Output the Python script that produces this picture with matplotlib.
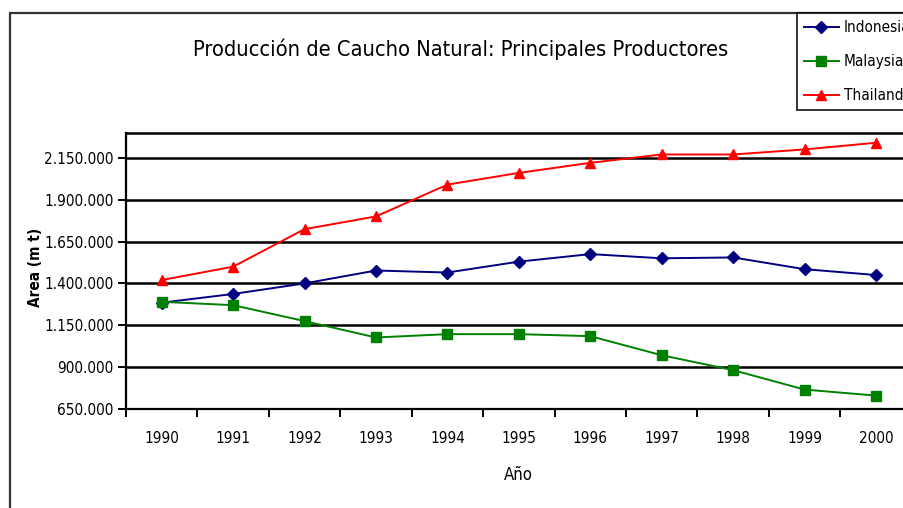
import matplotlib
matplotlib.use("Agg")
import matplotlib.pyplot as plt
from matplotlib.patches import Rectangle
from matplotlib.ticker import FixedLocator, FuncFormatter

plt.rcParams["font.family"] = ["DejaVu Sans"]
plt.rcParams["font.stretch"] = "condensed"

anni = ["1990", "1991", "1992", "1993", "1994", "1995",
        "1996", "1997", "1998", "1999", "2000"]
indonesia = [1285000, 1337000, 1400000, 1477000, 1465000, 1530000,
             1575000, 1550000, 1555000, 1485000, 1450000]
malaysia = [1290000, 1270000, 1175000, 1077000, 1097000, 1097000,
            1085000, 971000, 882000, 766000, 730000]
thailand = [1420000, 1500000, 1724000, 1800000, 1990000, 2060000,
            2120000, 2170000, 2170000, 2200000, 2240000]
yticks = [650000, 900000, 1150000, 1400000, 1650000, 1900000, 2150000]

W, H = 904, 508
fig = plt.figure(figsize=(W / 100, H / 100), dpi=100)

# bordo esterno del grafico (tagliato a destra e in basso)
fig.patches.append(Rectangle((10 / W, -0.1), 1.2, 1 - 13 / H + 0.1,
                             transform=fig.transFigure, fill=False,
                             edgecolor="#333333", linewidth=1.6))

x0, x1 = 126 / W, 911.7 / W
y0, y1 = (H - 409) / H, (H - 132.7) / H
ax = fig.add_axes([x0, y0, x1 - x0, y1 - y0])

xs = range(len(anni))
ax.plot(xs, indonesia, color="#000080", marker="D", markersize=6, lw=1.4,
        label="Indonesia")
ax.plot(xs, malaysia, color="#008000", marker="s", markersize=7, lw=1.4,
        label="Malaysia")
ax.plot(xs, thailand, color="#ff0000", marker="^", markersize=7, lw=1.4,
        label="Thailand")

ax.set_xlim(-0.5, len(anni) - 0.5)
ax.set_ylim(650000, 2300000)
ax.set_yticks(yticks)
ax.yaxis.set_major_formatter(FuncFormatter(lambda v, p: f"{int(v):,}".replace(",", ".")))
ax.yaxis.grid(True, color="black", linewidth=1.8)
ax.set_axisbelow(True)

ax.set_xticks(list(xs))
ax.set_xticklabels(anni)
ax.xaxis.set_minor_locator(FixedLocator([i - 0.5 for i in range(len(anni) + 1)]))
ax.tick_params(axis="x", which="major", length=0, pad=16, labelsize=11)
ax.tick_params(axis="x", which="minor", length=6, width=1.4, direction="out")
ax.tick_params(axis="y", length=6, width=1.4, direction="out", labelsize=11, pad=3)

for lato in ["top", "right"]:
    ax.spines[lato].set_visible(lato == "top")
ax.spines["top"].set_linewidth(1.8)
ax.spines["left"].set_linewidth(1.6)
ax.spines["bottom"].set_linewidth(1.6)

ax.set_xlabel("Año", fontsize=12, labelpad=14)
fig.text(36 / W, 1 - 267 / H, "Area (m t)", rotation=90, fontsize=11,
         fontweight="bold", ha="center", va="center")

fig.text(461 / W, 1 - 49 / H, "Producción de Caucho Natural: Principales Productores",
         fontsize=15.7, ha="center", va="center")

leg = fig.legend(loc="upper left", bbox_to_anchor=(797 / W, 1 - 13 / H),
                 frameon=True, fancybox=False, fontsize=11, handlelength=2.3,
                 borderpad=0.45, labelspacing=1.25, handletextpad=0.3,
                 borderaxespad=0)
leg.get_frame().set_edgecolor("black")
leg.get_frame().set_linewidth(1.4)

fig.savefig("out.png", dpi=100)
